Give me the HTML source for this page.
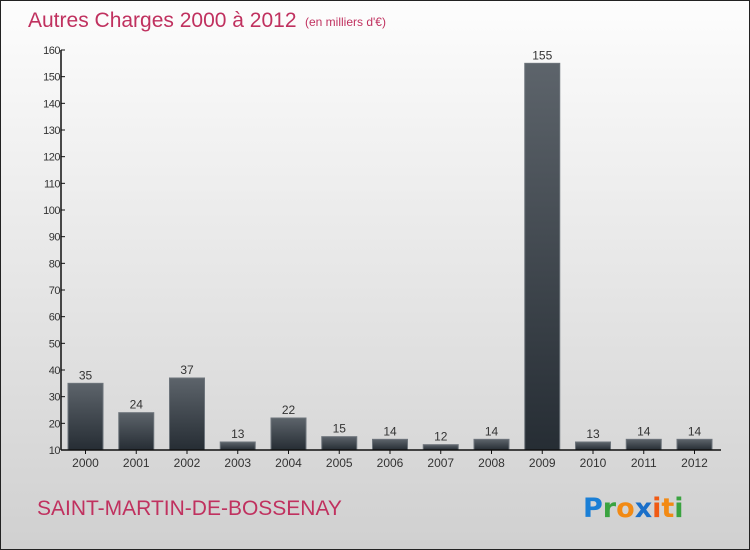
<!DOCTYPE html>
<html><head><meta charset="utf-8"><style>
body{margin:0}
#wrap{position:relative;width:748px;height:548px;border:1px solid #222;background:linear-gradient(#fdfdfd,#d0d0d0);font-family:"Liberation Sans",sans-serif;overflow:hidden}
</style></head><body>
<div id="wrap">
<svg id="chart" width="748" height="548">
<defs><linearGradient id="bg" x1="0" y1="0" x2="0" y2="1"><stop offset="0" stop-color="#5d646b"/><stop offset="1" stop-color="#262d34"/></linearGradient></defs>
<text x="27" y="26" font-size="21" fill="#c0315f">Autres Charges 2000 à 2012</text>
<text x="304" y="25" font-size="12" fill="#c0315f">(en milliers d'€)</text>
<text x="36" y="514" font-size="21" fill="#c0315f">SAINT-MARTIN-DE-BOSSENAY</text>
<g font-size="27" font-weight="bold" font-family="'DejaVu Sans',sans-serif">
<text x="582" y="516"><tspan fill="#1a7fd6">P</tspan><tspan fill="#3aa340">r</tspan><tspan fill="#f28a14">o</tspan><tspan fill="#1a6fc9">x</tspan><tspan fill="#f05a14">i</tspan><tspan fill="#f28a14">t</tspan><tspan fill="#3aa340">i</tspan></text></g>
<g id="plot"></g>
</svg>
</div>
<script>
const categories=["2000","2001","2002","2003","2004","2005","2006","2007","2008","2009","2010","2011","2012"];
const values=[35,24,37,13,22,15,14,12,14,155,13,14,14];
const yTicks=[10,20,30,40,50,60,70,80,90,100,110,120,130,140,150,160];
const ns="http://www.w3.org/2000/svg";
const g=document.getElementById('plot');
const x0=60,y0=449,yMin=10,yMax=160,plotTop=49;
function y(v){return y0-(v-yMin)/(yMax-yMin)*(y0-plotTop);}
function xc(i){return 84.5+i*50.75;}
function mk(t,a){const e=document.createElementNS(ns,t);for(const k in a)e.setAttribute(k,a[k]);g.appendChild(e);return e;}
values.forEach((v,i)=>{
 const b=mk('rect',{x:xc(i)-17.5,y:y(v),width:35,height:y0-y(v),fill:'url(#bg)',stroke:'#6d747b','stroke-width':1});
 
 
 const t=mk('text',{x:xc(i),y:y(v)-4,'font-size':12,fill:'#333','text-anchor':'middle'});t.textContent=v;
 
 
 const c=mk('text',{x:xc(i),y:466,'font-size':12,fill:'#333','text-anchor':'middle'});c.textContent=categories[i];
 
 
 const tk=mk('line',{x1:xc(i),x2:xc(i),y1:y0,y2:y0+4,stroke:'#111'});
 
 
});
yTicks.forEach(v=>{
 const l=mk('line',{x1:x0,x2:x0+4,y1:y(v),y2:y(v),stroke:'#111'});
 
 
 const t=mk('text',{x:x0-1,y:y(v)+4,'font-size':11,fill:'#333','text-anchor':'end','letter-spacing':'-0.5'});t.textContent=v;
 
 
});
const ya=mk('line',{x1:x0,x2:x0,y1:plotTop,y2:y0,stroke:'#111','stroke-width':1.5});


const xa=mk('line',{x1:x0,x2:720,y1:y0,y2:y0,stroke:'#111','stroke-width':1.5});


</script>
</body></html>
